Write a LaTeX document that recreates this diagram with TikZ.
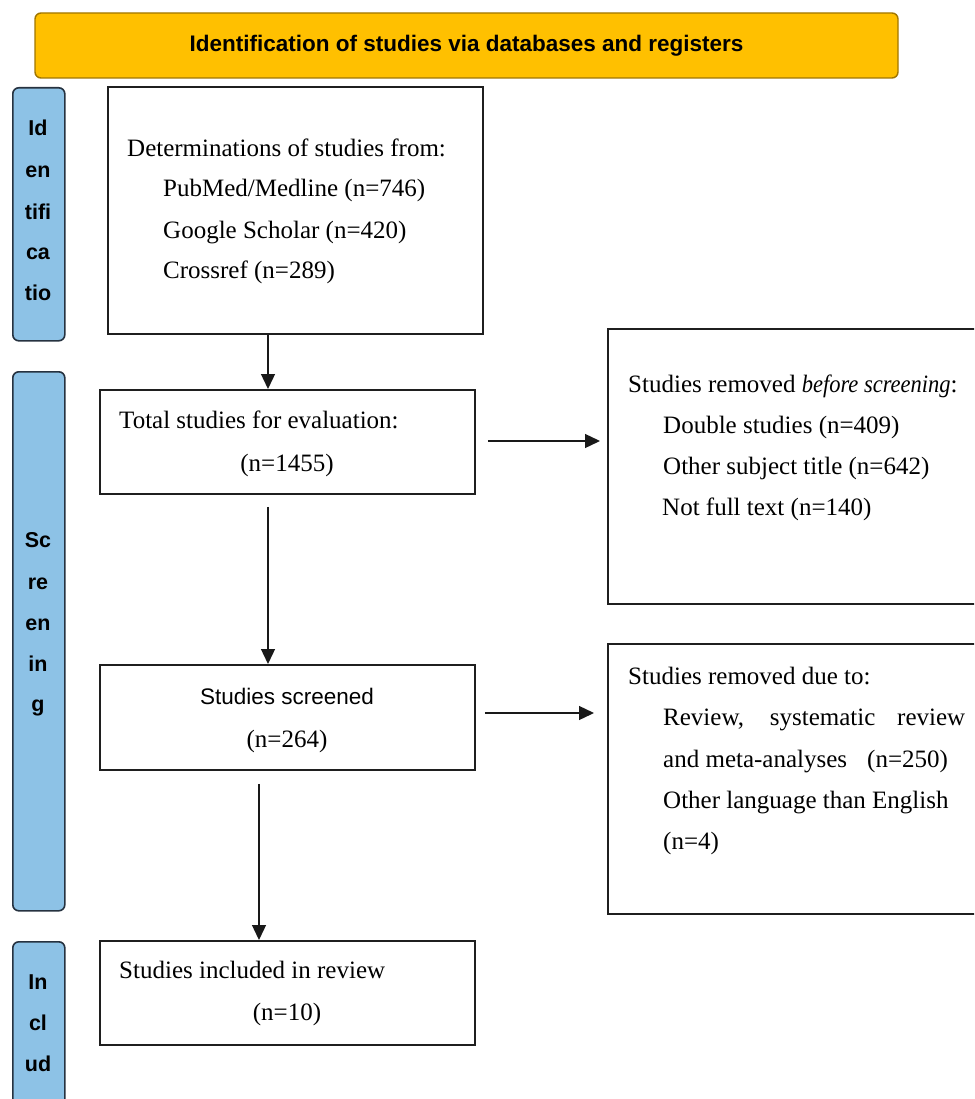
\documentclass[tikz,border=0pt]{standalone}
\usepackage{fontspec}
\usepackage{graphicx}
\setmainfont{Liberation Serif}
\setsansfont{Liberation Sans}
\usetikzlibrary{arrows.meta}
\definecolor{gold}{RGB}{255,192,0}
\definecolor{golddark}{RGB}{160,118,0}
\definecolor{sideblue}{RGB}{141,194,230}
\definecolor{sideedge}{RGB}{38,50,64}
\begin{document}
\begin{tikzpicture}[x=1pt,y=-1pt,
  box/.style={draw=black!88,line width=1.8pt,inner sep=0pt,anchor=north west},
  side/.style={draw=sideedge,fill=sideblue,line width=1.6pt,rounded corners=6pt,inner sep=0pt,anchor=north west,minimum width=52pt},
  sidelbl/.style={font=\sffamily\bfseries\fontsize{21.5}{24}\selectfont,anchor=base,inner sep=0pt},
  txt/.style={font=\fontsize{25}{29}\selectfont,anchor=base west,inner sep=0pt},
  ctxt/.style={font=\fontsize{25}{29}\selectfont,anchor=base,inner sep=0pt},
  arr/.style={line width=1.3pt,draw=black!90,-{Triangle[length=15pt,width=14pt]}}]
\useasboundingbox (0,0) rectangle (974,1099);
\clip (0,0) rectangle (974,1099);

% title
\node[draw=golddark,fill=gold,line width=1.4pt,rounded corners=6pt,minimum width=863pt,minimum height=65pt,inner sep=0pt,
  font=\sffamily\bfseries\fontsize{22.5}{26}\selectfont] (title) at (466.5,45.5) {Identification of studies via databases and registers};

% side bars
\node[side,minimum height=253pt] (sid) at (12,87) {};
\node[side,minimum height=539pt] (sscr) at (12,371) {};
\node[side,minimum height=200pt] (sinc) at (12,941) {};
\node[sidelbl] (l1) at (38,136) {Id};
\node[sidelbl] (l2) at (38,178) {en};
\node[sidelbl] (l3) at (38,219) {tifi};
\node[sidelbl] (l4) at (38,259) {ca};
\node[sidelbl] (l5) at (38,300) {tio};
\node[sidelbl] (l6) at (38,547) {Sc};
\node[sidelbl] (l7) at (38,589) {re};
\node[sidelbl] (l8) at (38,630) {en};
\node[sidelbl] (l9) at (38,671) {in};
\node[sidelbl] (l10) at (38,711) {g};
\node[sidelbl] (l11) at (38,989) {In};
\node[sidelbl] (l12) at (38,1030) {cl};
\node[sidelbl] (l13) at (38,1071) {ud};

% main boxes
\node[box,minimum width=375pt,minimum height=247pt] (b1) at (107,86) {};
\node[box,minimum width=375pt,minimum height=104pt] (b2) at (99,389) {};
\node[box,minimum width=375pt,minimum height=105pt] (b3) at (99,664) {};
\node[box,minimum width=375pt,minimum height=104pt] (b4) at (99,940) {};
\node[box,minimum width=383pt,minimum height=275pt] (r1) at (607,328) {};
\node[box,minimum width=383pt,minimum height=270pt] (r2) at (607,643) {};

% texts
\node[txt] (t1) at (127,157) {Determinations of studies from:};
\node[txt] (t2) at (163,197) {PubMed/Medline (n=746)};
\node[txt] (t3) at (163,238) {Google Scholar (n=420)};
\node[txt] (t4) at (163,278) {Crossref (n=289)};

\node[txt] (t5) at (119,428) {Total studies for evaluation:};
\node[ctxt] (t6) at (287,471) {(n=1455)};

\node[anchor=base,inner sep=0pt,font=\sffamily\fontsize{22.5}{26}\selectfont] (t7) at (287,704) {Studies screened};
\node[ctxt] (t8) at (287,747) {(n=264)};

\node[txt] (t9) at (119,978) {Studies included in review};
\node[ctxt] (t10) at (287,1020) {(n=10)};

\node[txt] (t11) at (628,392) {Studies removed \scalebox{0.9}[1]{\textit{before screening}}:};
\node[txt] (t12) at (663,433) {Double studies (n=409)};
\node[txt] (t13) at (663,474) {Other subject title (n=642)};
\node[txt] (t14) at (662,515) {Not full text (n=140)};

\node[txt] (t15) at (628,684) {Studies removed due to:};
\node[txt] (t16) at (663,725) {\makebox[302pt][s]{Review, systematic review}};
\node[txt] (t17) at (663,767) {and meta-analyses\hspace{20pt}(n=250)};
\node[txt] (t18) at (663,808) {Other language than English};
\node[txt] (t19) at (663,849) {(n=4)};

% connectors
\coordinate (xa) at (268,0);
\coordinate (xb) at (259,0);
\coordinate (ya) at (0,441);
\coordinate (yb) at (0,713);
\draw[arr] (xa |- b1.south) -- (xa |- b2.north);
\draw[arr,shorten <=12pt] (xa |- b2.south) -- (xa |- b3.north);
\draw[arr,shorten <=13pt] (xb |- b3.south) -- (xb |- b4.north);
\draw[arr,shorten <=12pt,shorten >=7pt] (b2.east |- ya) -- (r1.west |- ya);
\draw[arr,shorten <=9pt,shorten >=13pt] (b3.east |- yb) -- (r2.west |- yb);
\end{tikzpicture}
\end{document}
